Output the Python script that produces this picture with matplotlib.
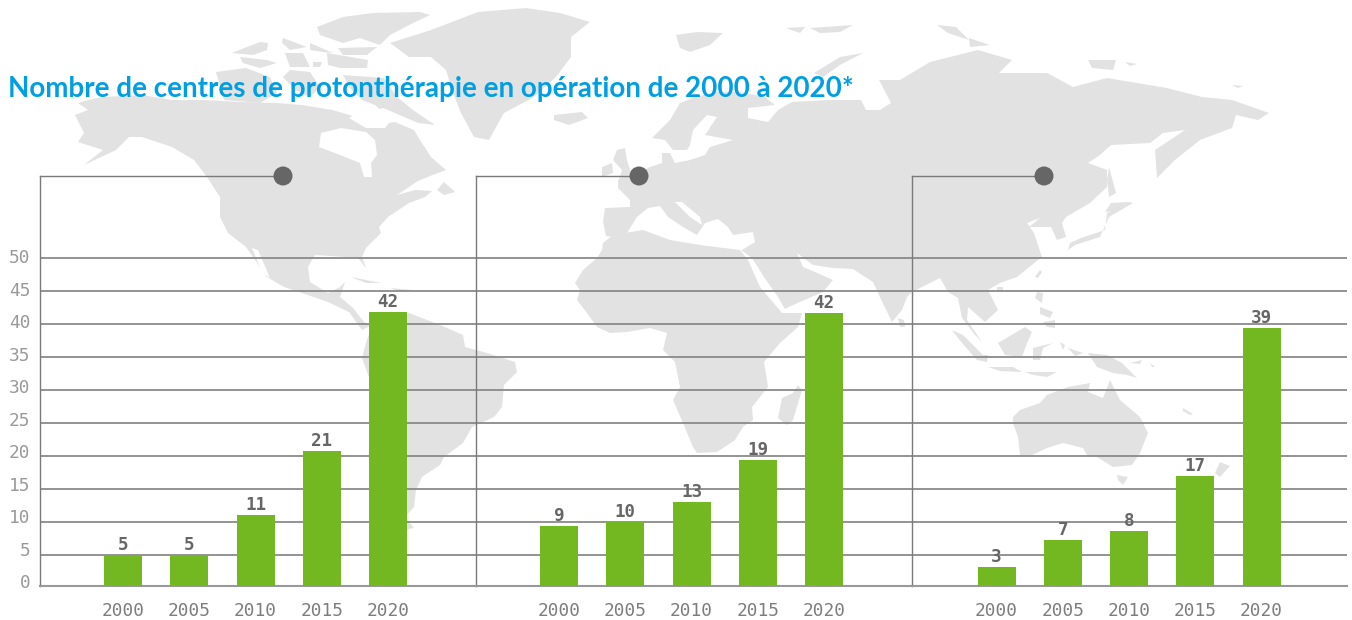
import matplotlib
matplotlib.use("Agg")
import matplotlib.pyplot as plt
from matplotlib.patches import Polygon, Circle
from matplotlib.transforms import blended_transform_factory

FIG_L = 13.52
FIG_A = 6.20
W, H = 1352, 620

GREEN = "#74b821"
BLUE = "#009fe3"
LAND_GREY = "#e2e2e2"
DARK = "#666666"
LINE = "#8a8a8a"

title = "Nombre de centres de protonthérapie en opération de 2000 à 2020*"
years = ["2000", "2005", "2010", "2015", "2020"]
y_ticks = [0, 5, 10, 15, 20, 25, 30, 35, 40, 45, 50]

# heights, the printed labels are rounded
heights_america = [5.0, 5.0, 11.1, 20.8, 41.9]
heights_europe = [9.4, 10.0, 13.1, 19.4, 41.7]
heights_asia = [3.2, 7.3, 8.7, 17.0, 39.4]
labels_america = ["5", "5", "11", "21", "42"]
labels_europe = ["9", "10", "13", "19", "42"]
labels_asia = ["3", "7", "8", "17", "39"]

# background world map, outlines traced in picture pixels
land = [
    # north america
    [(88, 100), (103, 97), (142, 95), (172, 100), (203, 100), (241, 102), (276, 103), (302, 105), (332, 110),
     (350, 115), (370, 125), (395, 122), (414, 130), (420, 140), (431, 157), (446, 170), (430, 176), (418, 181),
     (397, 195), (415, 190), (432, 191), (425, 197), (409, 203), (388, 217), (379, 227), (381, 233), (366, 248),
     (362, 257), (366, 268), (358, 258), (345, 257), (315, 255), (308, 267), (310, 282), (328, 293), (340, 287),
     (345, 282), (340, 297), (353, 308), (364, 322), (370, 326), (362, 330), (349, 312), (328, 302), (302, 293),
     (284, 287), (267, 277), (246, 247), (228, 233), (220, 217), (220, 197), (207, 177), (194, 160), (172, 147),
     (142, 137), (129, 137), (116, 150), (84, 165), (103, 150), (78, 142), (84, 133), (75, 115), (88, 110), (78, 103)],
    # south america
    [(366, 343), (372, 325), (409, 313), (440, 325), (463, 335), (465, 347), (487, 353), (515, 362), (517, 372),
     (504, 385), (502, 407), (494, 417), (472, 427), (463, 443), (444, 457), (440, 465), (422, 477), (416, 490),
     (414, 507), (405, 517), (414, 528), (405, 530), (395, 500), (390, 440), (370, 380), (362, 358)],
    # greenland
    [(390, 43), (431, 30), (478, 12), (526, 8), (560, 13), (590, 22), (571, 37), (571, 57), (556, 77), (534, 97),
     (504, 113), (489, 140), (474, 137), (461, 113), (453, 93), (446, 70), (431, 57), (409, 57)],
    # arctic canada
    [(343, 75), (384, 78), (397, 97), (413, 110), (435, 125), (418, 123), (388, 110), (362, 100), (350, 88)],
    [(317, 27), (343, 17), (373, 13), (420, 12), (430, 15), (413, 23), (390, 35), (380, 45), (360, 38), (343, 43),
     (320, 35)],
    [(338, 48), (377, 47), (367, 55), (343, 55)],
    [(283, 38), (307, 47), (290, 50), (282, 43)],
    [(310, 43), (333, 53), (323, 52), (310, 50)],
    [(232, 53), (247, 47), (260, 42), (268, 43), (267, 50), (253, 55)],
    [(240, 57), (267, 60), (277, 63), (260, 68), (243, 63)],
    [(327, 53), (368, 60), (367, 68), (340, 68), (328, 65)],
    [(285, 53), (303, 53), (310, 67), (290, 67)],
    [(313, 62), (322, 62), (320, 67), (313, 67)],
    [(290, 70), (310, 72), (320, 87), (310, 97), (295, 90), (283, 77)],
    [(216, 72), (246, 68), (270, 77), (277, 93), (260, 103), (224, 100)],
    [(374, 103), (384, 105), (380, 110)],
    [(444, 182), (455, 192), (444, 195), (437, 190)],
    [(351, 277), (381, 283), (366, 283)],
    [(390, 288), (413, 290), (400, 292)],
    # iceland, britain, ireland
    [(554, 115), (582, 112), (588, 118), (569, 125), (554, 120)],
    [(617, 150), (625, 148), (627, 160), (630, 170), (632, 175), (618, 182), (622, 170), (613, 160)],
    [(602, 167), (612, 163), (613, 173), (602, 177)],
    # eurasia
    [(605, 208), (630, 207), (630, 200), (618, 188), (618, 180), (640, 172), (650, 167), (662, 163), (662, 153),
     (670, 153), (675, 163), (690, 160), (705, 155), (710, 147), (733, 140), (705, 135), (717, 117), (707, 115),
     (693, 130), (690, 145), (687, 150), (673, 150), (665, 140), (652, 138), (670, 120), (680, 103), (693, 98),
     (715, 92), (740, 92), (765, 97), (775, 105), (748, 108), (748, 118), (768, 122), (778, 110), (792, 102),
     (827, 100), (861, 100), (866, 110), (880, 110), (891, 103), (879, 80), (900, 80), (930, 62), (978, 50),
     (1012, 60), (999, 73), (1047, 73), (1073, 87), (1107, 78), (1167, 88), (1202, 97), (1232, 100), (1269, 113),
     (1258, 120), (1236, 115), (1232, 128), (1200, 140), (1175, 160), (1157, 178), (1155, 150), (1185, 130),
     (1163, 133), (1150, 143), (1111, 145), (1100, 155), (1088, 163), (1107, 170), (1107, 187), (1090, 203),
     (1066, 217), (1062, 223), (1066, 237), (1057, 240), (1051, 227), (1029, 227), (1040, 218), (1027, 223),
     (1034, 233), (1042, 257), (1038, 260), (1017, 277), (1000, 283), (988, 290), (998, 310), (985, 322),
     (968, 307), (967, 320), (982, 342), (975, 335), (962, 318), (958, 298), (948, 292), (940, 278), (912, 292),
     (907, 297), (902, 310), (892, 322), (878, 293), (873, 282), (853, 269), (833, 268), (813, 265), (797, 253),
     (803, 267), (815, 272), (833, 280), (823, 292), (793, 305), (785, 309), (778, 297), (766, 280), (752, 258),
     (741, 250), (640, 245), (622, 238), (606, 236), (603, 222)],
]

seas = [
    # hudson bay, foxe basin
    [(321, 133), (341, 128), (366, 132), (375, 140), (377, 155), (371, 163), (372, 177), (364, 177), (360, 163),
     (340, 155), (319, 147)],
    [(349, 118), (370, 105), (395, 115), (385, 128), (366, 128)],
    # gulf of california
    [(252, 248), (258, 250), (270, 278), (262, 272)],
    # mediterranean, adriatic
    [(632, 225), (637, 217), (648, 208), (660, 206), (668, 217), (683, 227), (697, 235), (705, 223), (718, 219),
     (728, 227), (733, 235), (753, 232), (755, 242), (742, 250), (700, 250), (640, 245), (624, 238)],
    [(675, 202), (682, 202), (700, 217), (702, 225), (690, 217)],
]

land_top = [
    # africa, madagascar
    [(603, 243), (613, 235), (643, 230), (670, 240), (700, 245), (740, 250), (748, 260), (760, 287), (777, 307),
     (782, 313), (802, 313), (798, 327), (780, 343), (770, 355), (764, 362), (768, 387), (752, 407), (753, 420),
     (743, 427), (735, 440), (717, 452), (697, 453), (693, 447), (683, 423), (673, 400), (680, 387), (675, 362),
     (663, 350), (667, 333), (650, 328), (627, 332), (610, 333), (597, 327), (587, 313), (577, 300), (580, 290),
     (575, 283), (583, 270), (597, 258), (602, 250)],
    [(798, 385), (802, 390), (793, 420), (787, 425), (778, 418), (782, 398), (793, 393)],
    [(898, 318), (904, 320), (905, 327), (900, 327)],
    # arctic islands of eurasia
    [(814, 73), (840, 57), (863, 53), (840, 65), (823, 77)],
    [(676, 35), (697, 32), (723, 33), (710, 45), (690, 52), (680, 48)],
    [(786, 28), (805, 27), (800, 33)],
    [(810, 28), (853, 25), (840, 32), (820, 33)],
    [(937, 25), (956, 27), (969, 40), (948, 33)],
    [(969, 38), (990, 45), (970, 47)],
    [(1088, 60), (1116, 60), (1113, 70), (1092, 68)],
    [(1125, 62), (1137, 64), (1130, 66)],
    [(1232, 85), (1243, 86), (1238, 88)],
    # japan, sakhalin
    [(1129, 202), (1107, 213), (1105, 230), (1081, 238), (1070, 243), (1068, 250), (1075, 245), (1100, 237),
     (1109, 217), (1133, 203)],
    [(1111, 203), (1129, 202), (1120, 210), (1105, 212)],
    [(1109, 167), (1116, 193), (1109, 197), (1107, 180)],
    # south east asia
    [(952, 330), (963, 335), (983, 355), (988, 355), (987, 362), (977, 360), (962, 343)],
    [(988, 367), (1013, 367), (1022, 372), (1000, 371)],
    [(1025, 372), (1057, 372), (1047, 377), (1033, 375)],
    [(998, 343), (1025, 327), (1032, 332), (1027, 343), (1022, 357), (1005, 355)],
    [(1033, 348), (1053, 343), (1043, 348), (1040, 360), (1033, 360)],
    [(1088, 353), (1107, 355), (1122, 363), (1137, 378), (1127, 375), (1113, 373), (1097, 367)],
    [(1068, 348), (1083, 353), (1075, 356)],
    [(1060, 342), (1065, 345), (1063, 350)],
    [(1037, 292), (1043, 293), (1042, 303), (1035, 298)],
    [(1043, 322), (1055, 320), (1055, 328), (1047, 327)],
    [(1040, 307), (1053, 312), (1050, 318), (1040, 314)],
    [(1035, 277), (1040, 270), (1042, 272), (1038, 278)],
    [(997, 287), (1003, 287), (1003, 290), (997, 290)],
    # oceania
    [(1013, 417), (1020, 410), (1040, 403), (1047, 395), (1068, 387), (1090, 383), (1088, 392), (1103, 398),
     (1110, 380), (1120, 400), (1140, 417), (1148, 433), (1140, 453), (1132, 465), (1113, 467), (1097, 457),
     (1087, 455), (1083, 448), (1063, 443), (1047, 448), (1032, 455), (1020, 455), (1018, 437), (1013, 423)],
    [(1117, 475), (1128, 477), (1123, 485), (1118, 480)],
    [(1220, 462), (1230, 466), (1220, 477), (1215, 473)],
    [(1183, 408), (1193, 414), (1190, 415), (1183, 411)],
    [(1130, 363), (1142, 360), (1140, 364)],
    [(1150, 363), (1155, 367), (1152, 367)],
]

fig = plt.figure(figsize=(FIG_L, FIG_A), dpi=100, facecolor="white")

# backdrop axes in picture pixels, y going down
bg = fig.add_axes([0, 0, 1, 1], zorder=0)
bg.set_xlim(0, W)
bg.set_ylim(H, 0)
bg.axis("off")
for pts in land:
    bg.add_patch(Polygon(pts, closed=True, fc=LAND_GREY, ec="none", zorder=1))
for pts in seas:
    bg.add_patch(Polygon(pts, closed=True, fc="white", ec="none", zorder=2))
for pts in land_top:
    bg.add_patch(Polygon(pts, closed=True, fc=LAND_GREY, ec="none", zorder=3))

bg.text(8, 88.5, title, color=BLUE, fontsize=20.0, fontfamily="Lato", fontweight="bold",
        ha="left", va="center", zorder=6)

panel_left = [40, 476, 912]
panel_right = [476, 912, 1347]
panel_first = [83.0, 83.0, 84.5]
dot_x = [283, 639, 1044]
panel_heights = [heights_america, heights_europe, heights_asia]
panel_labels = [labels_america, labels_europe, labels_asia]

AX_TOP = 176
AX_BOT = 586.3
PX_PER_UNIT = 6.6
ZERO_PX = 588.3
ymin = (ZERO_PX - AX_BOT) / PX_PER_UNIT
ymax = (ZERO_PX - AX_TOP) / PX_PER_UNIT
STEP = 66.25

for i in range(3):
    l, r = panel_left[i], panel_right[i]
    ax = fig.add_axes([l / W, 1 - AX_BOT / H, (r - l) / W, (AX_BOT - AX_TOP) / H], zorder=1)
    ax.patch.set_alpha(0)
    ax.set_xlim(-panel_first[i] / STEP, (r - l - panel_first[i]) / STEP)
    ax.set_ylim(ymin, ymax)

    ax.bar(range(5), panel_heights[i], width=38 / STEP, color=GREEN, zorder=3)
    for k, lab in enumerate(panel_labels[i]):
        ax.annotate(lab, (k, panel_heights[i][k]), xytext=(0, 3.7), textcoords="offset points",
                    ha="center", va="baseline", color=DARK, fontsize=12.6,
                    fontfamily="DejaVu Sans Mono", fontweight="bold", zorder=4)

    ax.set_yticks(y_ticks[1:])
    ax.set_yticklabels([])
    ax.grid(axis="y", color=LINE, lw=1.3)
    ax.set_axisbelow(True)
    ax.set_xticks(range(5))
    ax.set_xticklabels(years, fontfamily="DejaVu Sans Mono", fontsize=12.9, color="#7d7d7d")
    ax.tick_params(axis="both", length=0)
    ax.tick_params(axis="x", pad=11)

    for s in ["top", "right"]:
        ax.spines[s].set_visible(False)
    ax.spines["left"].set_color("#7a7a7a")
    ax.spines["left"].set_linewidth(1.0)
    ax.spines["bottom"].set_color("#999999")
    ax.spines["bottom"].set_linewidth(1.5)

    bg.plot([l, dot_x[i]], [AX_TOP, AX_TOP], color="#7a7a7a", lw=1.0, zorder=4)
    bg.add_patch(Circle((dot_x[i], AX_TOP), 9.5, fc=DARK, ec="none", zorder=5))

    if i == 0:
        # axis numbers sit slightly off the grid lines in the reference
        trans = blended_transform_factory(fig.transFigure, ax.transData)
        for v in y_ticks:
            ax.text(30.5 / W, 0.73 + v * 0.9864, str(v), transform=trans, ha="right", va="center",
                    fontfamily="DejaVu Sans Mono", fontsize=12.9, color="#999999", clip_on=False)

fig.savefig("out.png", dpi=100, facecolor="white")
